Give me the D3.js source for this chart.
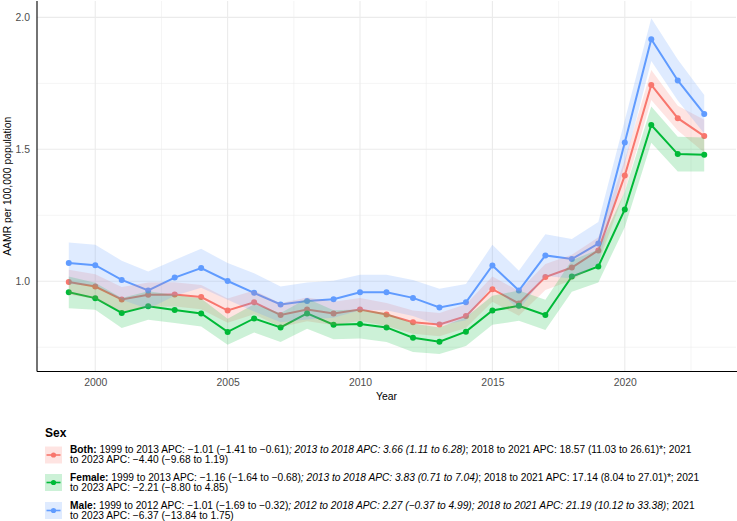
<!DOCTYPE html>
<html>
<head>
<meta charset="utf-8">
<script src="https://cdn.jsdelivr.net/npm/d3@7"></script>
<style>
body{margin:0;background:#fff;}
svg{font-family:"Liberation Sans",Arial,sans-serif;}
</style>
</head>
<body>
<svg id="chart" width="737" height="521"></svg>
<script>
// data
var years = d3.range(1999, 2024);

var bothVal = [0.997,0.980,0.931,0.949,0.950,0.940,0.889,0.920,0.872,0.893,0.878,0.893,0.874,0.845,0.836,0.868,0.970,0.916,1.016,1.052,1.117,1.401,1.744,1.618,1.550];
var bothLo  = [0.950,0.933,0.884,0.903,0.904,0.894,0.843,0.875,0.827,0.848,0.834,0.849,0.830,0.801,0.792,0.823,0.922,0.869,0.967,1.004,1.067,1.342,1.687,1.571,1.488];
var bothHi  = [1.044,1.027,0.978,0.995,0.996,0.986,0.935,0.965,0.917,0.938,0.922,0.937,0.918,0.889,0.880,0.913,1.018,0.963,1.065,1.100,1.167,1.460,1.801,1.665,1.612];

var femVal = [0.958,0.936,0.880,0.905,0.891,0.878,0.808,0.859,0.825,0.878,0.835,0.838,0.825,0.786,0.771,0.809,0.889,0.907,0.872,1.018,1.056,1.272,1.592,1.482,1.479];
var femLo  = [0.898,0.892,0.823,0.854,0.842,0.829,0.759,0.806,0.770,0.820,0.780,0.783,0.770,0.732,0.724,0.755,0.835,0.850,0.815,0.960,0.995,1.205,1.525,1.416,1.416];
var femHi  = [1.018,0.994,0.937,0.962,0.948,0.935,0.858,0.913,0.880,0.935,0.890,0.893,0.880,0.840,0.825,0.864,0.945,0.965,0.930,1.080,1.120,1.340,1.662,1.548,1.545];

var maleVal = [1.069,1.061,1.005,0.965,1.014,1.050,1.001,0.956,0.912,0.925,0.932,0.958,0.958,0.937,0.901,0.920,1.060,0.965,1.098,1.084,1.143,1.526,1.917,1.761,1.634];
var maleLo  = [0.990,0.985,0.930,0.895,0.945,0.975,0.930,0.885,0.845,0.855,0.862,0.890,0.890,0.868,0.832,0.852,0.985,0.892,1.020,1.010,1.065,1.445,1.835,1.685,1.560];
var maleHi  = [1.147,1.138,1.078,1.037,1.081,1.123,1.069,1.030,0.980,0.995,1.002,1.025,1.025,1.005,0.972,0.990,1.138,1.040,1.178,1.160,1.225,1.610,1.997,1.840,1.706];

var xTicks = [2000, 2005, 2010, 2015, 2020];
var yTicks = [1.0, 1.5, 2.0];

var sexNames = ["Both", "Female", "Male"];
var sexColors = ["#F8766D", "#00BA38", "#619CFF"];

// legend text pieces: [text, style]  b = bold, i = italic, n = normal
var legendLines = [
  [
    [["Both:", "b"], [" 1999 to 2013 APC: \u22121.01 (\u22121.41 to \u22120.61)", "n"], ["; 2013 to 2018 APC: 3.66 (1.11 to 6.28)", "i"], ["; 2018 to 2021 APC: 18.57 (11.03 to 26.61)*; 2021", "n"]],
    [["to 2023 APC: \u22124.40 (\u22129.68 to 1.19)", "n"]]
  ],
  [
    [["Female:", "b"], [" 1999 to 2013 APC: \u22121.16 (\u22121.64 to \u22120.68)", "n"], ["; 2013 to 2018 APC: 3.83 (0.71 to 7.04)", "i"], ["; 2018 to 2021 APC: 17.14 (8.04 to 27.01)*; 2021", "n"]],
    [["to 2023 APC: \u22122.21 (\u22128.80 to 4.85)", "n"]]
  ],
  [
    [["Male:", "b"], [" 1999 to 2012 APC: \u22121.01 (\u22121.69 to \u22120.32)", "n"], ["; 2012 to 2018 APC: 2.27 (\u22120.37 to 4.99); 2018 to 2021 APC: 21.19 (10.12 to 33.38)", "i"], ["; 2021", "n"]],
    [["to 2023 APC: \u22126.37 (\u221213.84 to 1.75)", "n"]]
  ]
];

var series = sexNames.map(function(n, i){
  var v = [bothVal, femVal, maleVal][i],
      lo = [bothLo, femLo, maleLo][i],
      hi = [bothHi, femHi, maleHi][i];
  return {name: n, color: sexColors[i], pts: years.map(function(y, k){ return {year: y, v: v[k], lo: lo[k], hi: hi[k]}; })};
});

var svg = d3.select("#chart");
var pL = 37, pR = 736, pT = 1, pB = 371.5;

var x = d3.scaleLinear().domain([1997.8, 2024.2]).range([pL, pR]);
var y = d3.scaleLinear().domain([0.658, 2.062]).range([pB, pT]);

// grid
var grid = svg.append("g");
d3.range(1997.5, 2025, 2.5).forEach(function(t){
  if (t < 1997.8 || t > 2024.2) return;
  var major = (t % 5 === 0);
  grid.append("line").attr("x1", x(t)).attr("x2", x(t)).attr("y1", pT).attr("y2", pB)
    .attr("stroke", "#EBEBEB").attr("stroke-width", major ? 1.1 : 0.55);
});
[0.75, 1.0, 1.25, 1.5, 1.75, 2.0].forEach(function(t){
  var major = yTicks.indexOf(t) >= 0;
  grid.append("line").attr("x1", pL).attr("x2", pR).attr("y1", y(t)).attr("y2", y(t))
    .attr("stroke", "#EBEBEB").attr("stroke-width", major ? 1.1 : 0.55);
});

// lines and points
var line = d3.line().x(function(d){ return x(d.year); }).y(function(d){ return y(d.v); });
var area = d3.area().x(function(d){ return x(d.year); }).y0(function(d){ return y(d.lo); }).y1(function(d){ return y(d.hi); });

var sg = svg.selectAll("g.series").data(series).enter().append("g").attr("class", "series");
sg.append("path").attr("d", function(d){ return line(d.pts); })
  .attr("fill", "none").attr("stroke", function(d){ return d.color; }).attr("stroke-width", 2);
sg.selectAll("circle").data(function(d){ return d.pts.map(function(p){ return {p: p, c: d.color}; }); })
  .enter().append("circle")
  .attr("cx", function(d){ return x(d.p.year); }).attr("cy", function(d){ return y(d.p.v); })
  .attr("r", 3).attr("fill", function(d){ return d.c; });

// ribbons on top
svg.selectAll("path.rib").data(series).enter().append("path").attr("class", "rib")
  .attr("d", function(d){ return area(d.pts); })
  .attr("fill", function(d){ return d.color; }).attr("fill-opacity", 0.2);

// axes
var xAxis = svg.append("g").attr("transform", "translate(0," + pB + ")")
  .call(d3.axisBottom(x).tickValues(xTicks).tickFormat(d3.format("d")).tickSize(0).tickPadding(7));
var yAxis = svg.append("g").attr("transform", "translate(" + pL + ",0)")
  .call(d3.axisLeft(y).tickValues(yTicks).tickFormat(d3.format(".1f")).tickSize(0).tickPadding(7));
[xAxis, yAxis].forEach(function(a){
  a.select(".domain").attr("stroke", "#000").attr("stroke-width", 1.1);
  a.selectAll("text").attr("fill", "#4D4D4D").attr("font-size", 10.4).attr("font-family", "Liberation Sans, Arial, sans-serif");
});
xAxis.select(".domain").attr("d", "M" + pL + ",0H" + 737);
yAxis.select(".domain").attr("d", "M0," + pT + "V" + pB);

svg.append("text").attr("x", (pL + pR) / 2).attr("y", 399.5).attr("text-anchor", "middle")
  .attr("font-size", 10.4).attr("fill", "#000").text("Year");
svg.append("text").attr("transform", "translate(11," + ((pT + pB) / 2) + ") rotate(-90)")
  .attr("text-anchor", "middle").attr("font-size", 10.4).attr("fill", "#000").text("AAMR per 100,000 population");

// legend
var lg = svg.append("g");
lg.append("text").attr("x", 45).attr("y", 437).attr("font-size", 12).attr("font-weight", "bold").text("Sex");
var rowY = [455, 482.5, 510.5];
series.forEach(function(s, i){
  var cy = rowY[i];
  lg.append("rect").attr("x", 45).attr("y", cy - 8.5).attr("width", 17).attr("height", 17)
    .attr("fill", s.color).attr("fill-opacity", 0.2);
  lg.append("line").attr("x1", 46.5).attr("x2", 60.5).attr("y1", cy).attr("y2", cy)
    .attr("stroke", s.color).attr("stroke-width", 1.6);
  lg.append("circle").attr("cx", 53.5).attr("cy", cy).attr("r", 2.6).attr("fill", s.color);
  legendLines[i].forEach(function(parts, j){
    var t = lg.append("text").attr("x", 70).attr("y", cy - 2 + j * 10).attr("font-size", 10.2).attr("fill", "#000");
    parts.forEach(function(p){
      t.append("tspan").text(p[0])
        .attr("font-weight", p[1] === "b" ? "bold" : null)
        .attr("font-style", p[1] === "i" ? "italic" : null);
    });
  });
});
</script>
</body>
</html>
